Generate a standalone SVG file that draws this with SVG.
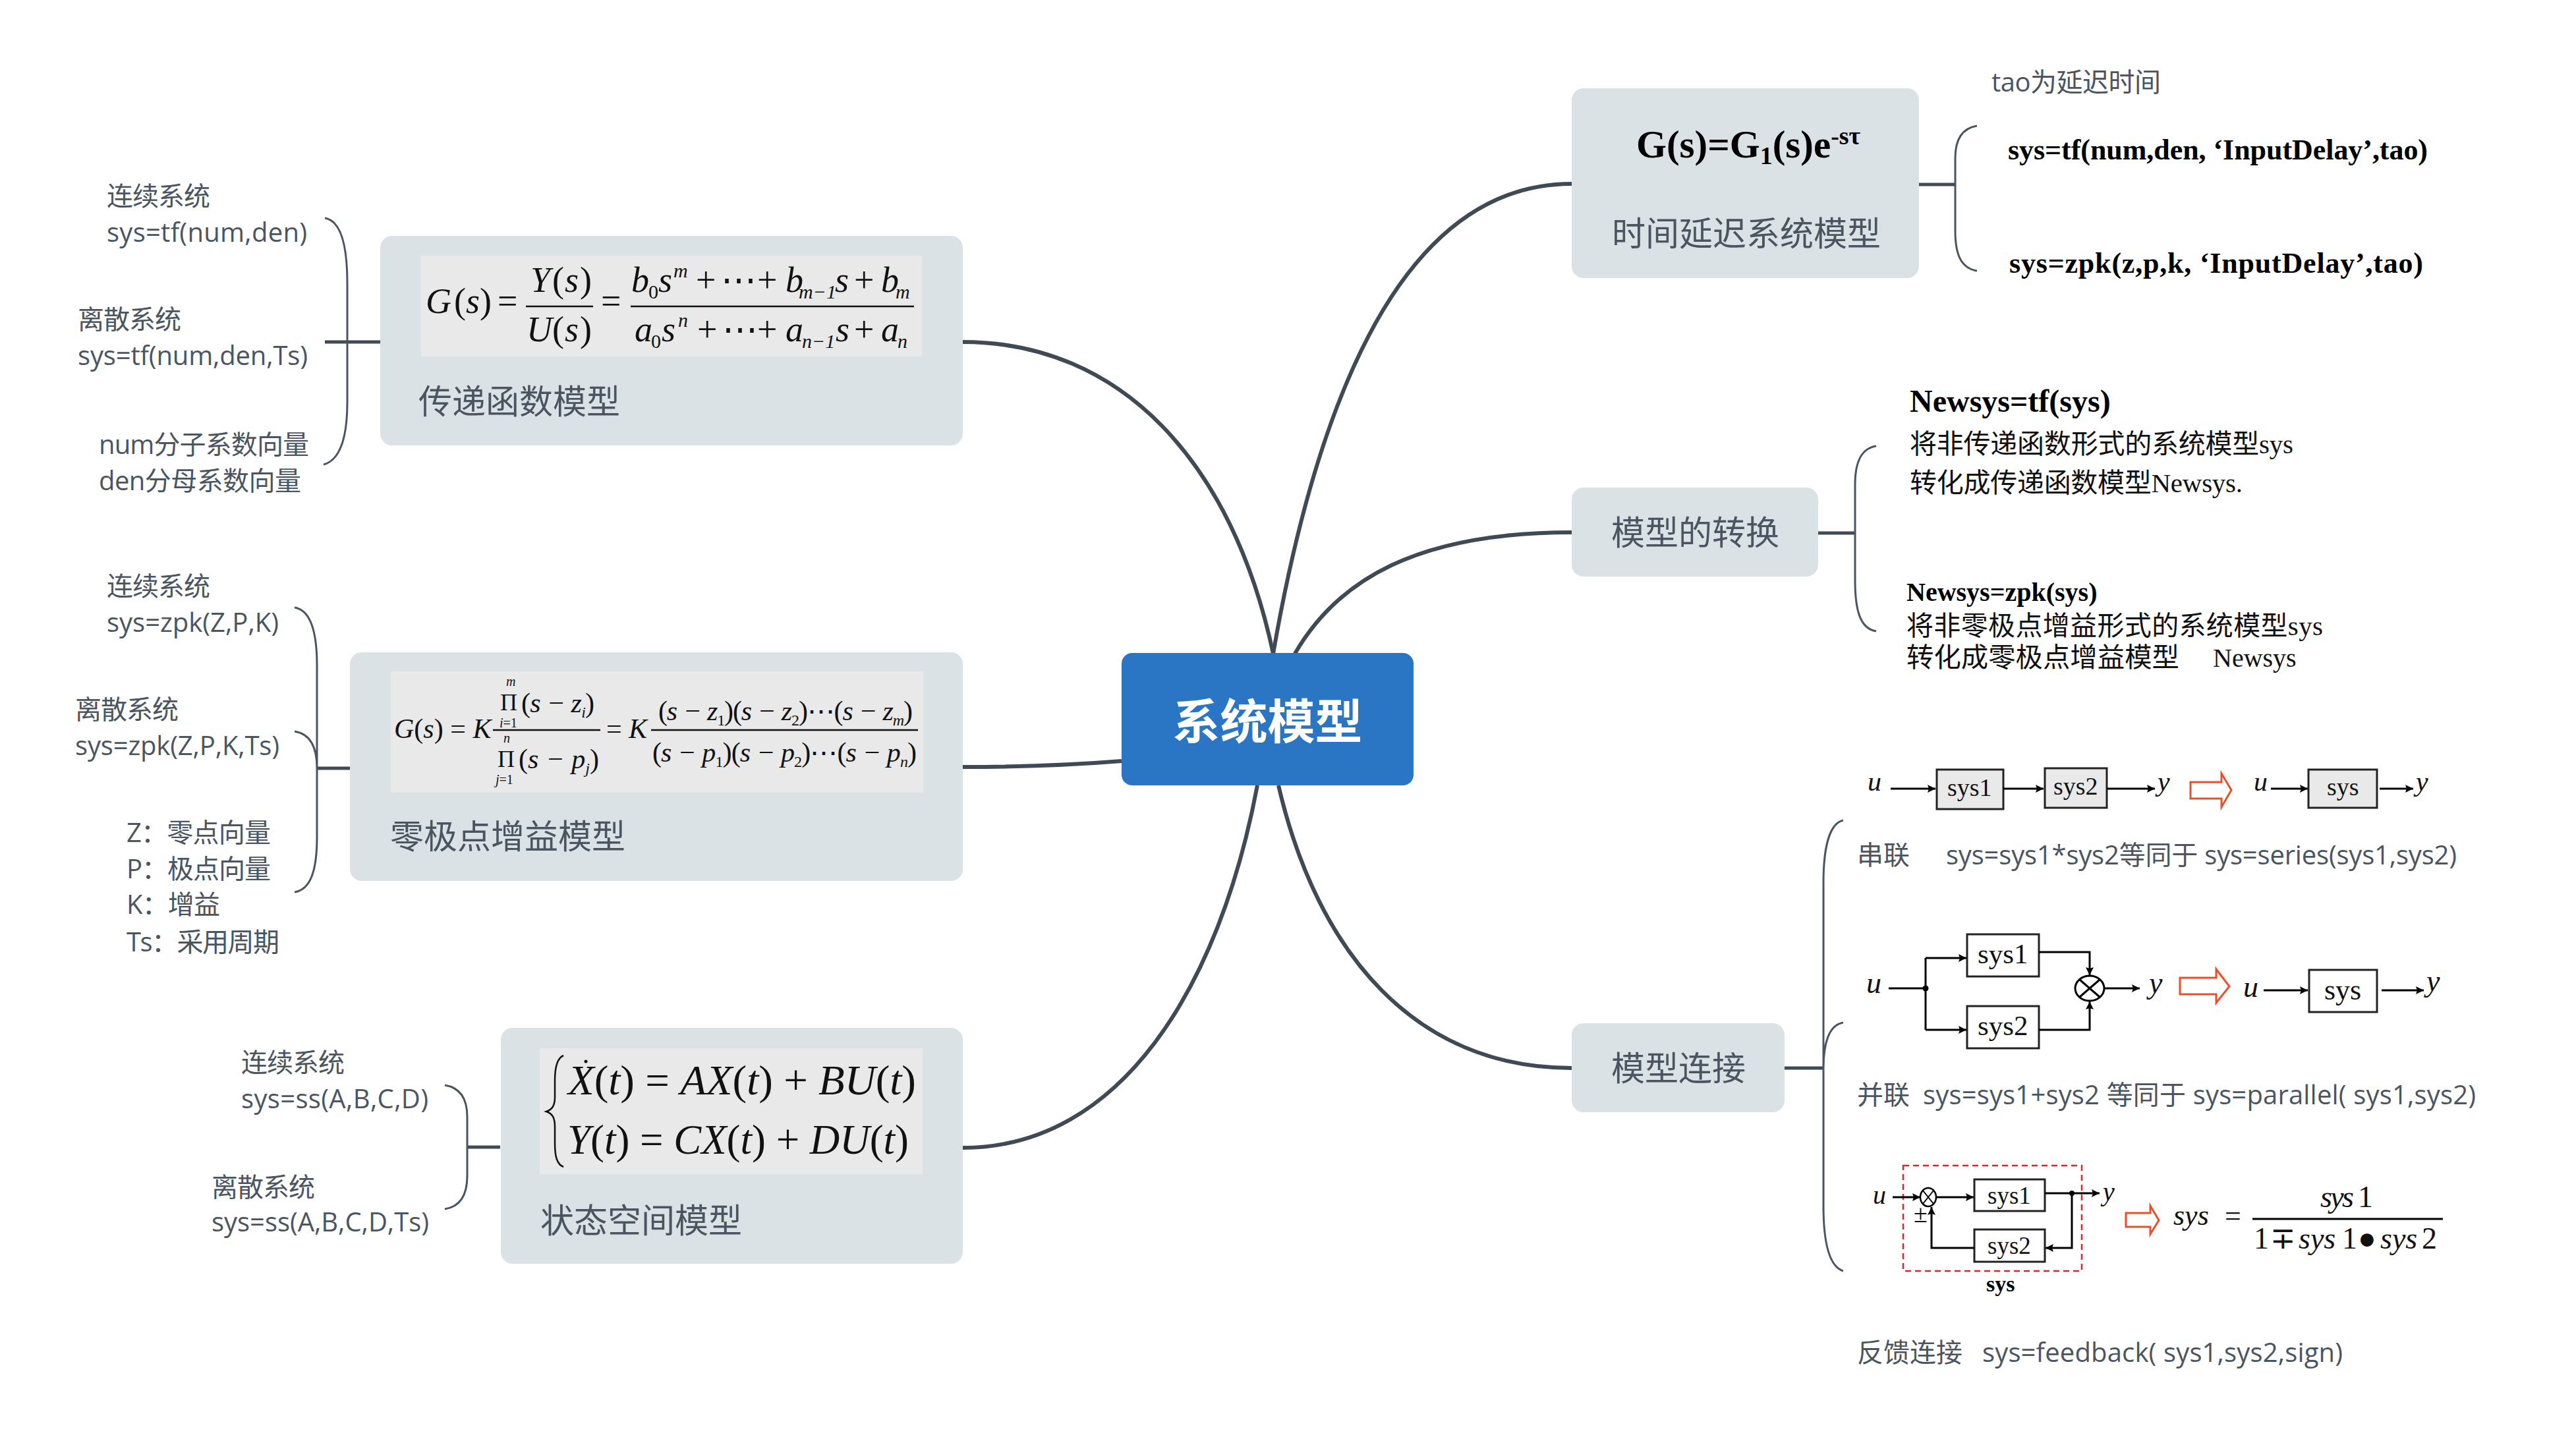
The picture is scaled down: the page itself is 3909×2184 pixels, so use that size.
<svg xmlns="http://www.w3.org/2000/svg" width="3909" height="2184" viewBox="0 0 3909 2184">
<style>
text{white-space:pre}
.n{fill:#dbe2e5}
.fb{fill:#e9e9e9}
.lb{font:40px "Open Sans","Noto Sans CJK SC",sans-serif;fill:#4a5561}
.tt{font:51px "Open Sans","Noto Sans CJK SC",sans-serif;fill:#4a5561}
.sb{font-family:"Liberation Serif","Noto Sans CJK SC",serif;font-weight:700;fill:#000}
.sr{font-family:"Liberation Serif","Noto Sans CJK SC",serif;fill:#111}
.it{font-family:"Liberation Serif",serif;font-style:italic;fill:#111}
.up{font-style:normal}
.c{fill:none;stroke:#3f4a54;stroke-width:6;stroke-linecap:butt}
.b{fill:none;stroke:#4a5561;stroke-width:3}
.s{fill:none;stroke:#3f4a54;stroke-width:5}
.w{fill:none;stroke:#000;stroke-width:3}
.a{fill:none;stroke:#000;stroke-width:3;marker-end:url(#h)}
.bx{fill:#e9e9e9;stroke:#222;stroke-width:3}
.bw{fill:#fff;stroke:#222;stroke-width:3}
.ra{fill:#fff;stroke:#e8502a;stroke-width:3}
.fl{stroke:#111;stroke-width:2.5;fill:none}
</style>
<defs><marker id="h" markerUnits="userSpaceOnUse" markerWidth="14" markerHeight="14" refX="12" refY="6" orient="auto"><path d="M0,0L12,6L0,12L2,6Z" fill="#000"/></marker></defs>
<rect width="3909" height="2184" fill="#fff"/>
<g id="connectors">
<path class="c" d="M1461,519C1700,519 1870,700 1932,992"/>
<path class="c" d="M1461,1164C1560,1164 1640,1160 1702,1155"/>
<path class="c" d="M1461,1742C1700,1742 1850,1500 1908,1192"/>
<path class="c" d="M2385,279C2130,279 2000,600 1932,992"/>
<path class="c" d="M2385,808C2150,808 2030,880 1965,992"/>
<path class="c" d="M2385,1621C2150,1621 2000,1450 1940,1192"/>
<path class="s" d="M493,519H577"/>
<path class="b" d="M493,331C518,335 527,375 527,430V610C527,660 518,698 491,705"/>
<path class="s" d="M481,1166H531"/>
<path class="b" d="M447,922C472,926 481,960 481,1010V1270C481,1320 472,1350 447,1354M447,1110C472,1114 481,1135 481,1166"/>
<path class="s" d="M709,1741H759"/>
<path class="b" d="M675,1647C700,1651 709,1670 709,1695V1785C709,1812 700,1831 675,1835"/>
<path class="s" d="M2912,280H2967"/>
<path class="b" d="M3000,191C2975,195 2967,215 2967,240V350C2967,385 2975,407 3000,411"/>
<path class="s" d="M2759,809H2815"/>
<path class="b" d="M2847,677C2822,681 2815,705 2815,735V880C2815,925 2822,954 2847,958"/>
<path class="s" d="M2708,1621H2767"/>
<path class="b" d="M2797,1245C2775,1250 2767,1290 2767,1340V1830C2767,1885 2775,1922 2797,1929M2797,1552C2775,1555 2767,1585 2767,1621"/>
</g>
<g id="root"><rect x="1702" y="991" width="443" height="201" rx="16" fill="#2b76c4"/><text x="1923.5" y="1121" text-anchor="middle" style="font:700 72px 'Noto Sans CJK SC',sans-serif;fill:#fff">系统模型</text></g>
<g id="node-transfer"><rect class="n" x="577" y="358" width="884" height="318" rx="18"/><rect class="fb" x="639" y="388" width="760" height="153"/>
<text class="it" font-size="54" y="475"><tspan x="646">G</tspan><tspan class="up" x="689">(</tspan><tspan x="707">s</tspan><tspan class="up" x="728">)</tspan><tspan class="up" x="755">=</tspan><tspan class="up" x="912">=</tspan></text>
<path class="fl" d="M798,465H900M957,465H1387"/>
<text class="it" font-size="54" y="443"><tspan x="805">Y</tspan><tspan class="up" x="838">(</tspan><tspan x="857">s</tspan><tspan class="up" x="880">)</tspan></text>
<text class="it" font-size="54" y="518"><tspan x="799">U</tspan><tspan class="up" x="838">(</tspan><tspan x="857">s</tspan><tspan class="up" x="880">)</tspan></text>
<text class="it" font-size="54" y="443"><tspan x="958">b</tspan><tspan x="984" class="up" font-size="30" dy="10">0</tspan><tspan x="999" dy="-10">s</tspan><tspan x="1022" font-size="30" dy="-22">m</tspan><tspan x="1056" class="up" dy="22">+</tspan><tspan x="1094" class="up">⋯</tspan><tspan x="1149" class="up">+</tspan><tspan x="1192">b</tspan><tspan x="1212" font-size="30" dy="10">m−1</tspan><tspan x="1267" dy="-10">s</tspan><tspan x="1296" class="up">+</tspan><tspan x="1337">b</tspan><tspan x="1359" font-size="30" dy="10">m</tspan></text>
<text class="it" font-size="54" y="518"><tspan x="963">a</tspan><tspan x="988" class="up" font-size="30" dy="10">0</tspan><tspan x="1004" dy="-10">s</tspan><tspan x="1029" font-size="30" dy="-22">n</tspan><tspan x="1058" class="up" dy="22">+</tspan><tspan x="1096" class="up">⋯</tspan><tspan x="1149" class="up">+</tspan><tspan x="1192">a</tspan><tspan x="1217" font-size="30" dy="10">n−1</tspan><tspan x="1268" dy="-10">s</tspan><tspan x="1296" class="up">+</tspan><tspan x="1337">a</tspan><tspan x="1362" font-size="30" dy="10">n</tspan></text>
<text class="tt" x="635" y="628">传递函数模型</text></g>
<g id="node-zpk"><rect class="n" x="531" y="990" width="930" height="347" rx="18"/><rect class="fb" x="593" y="1019" width="808" height="184"/>
<text class="it" font-size="42" y="1120"><tspan x="598">G</tspan><tspan class="up">(</tspan>s<tspan class="up">) = </tspan>K<tspan class="up" x="920">=</tspan><tspan x="954">K</tspan></text>
<path class="fl" d="M748,1108H911M988,1108H1393"/>
<text class="it" font-size="20" x="768" y="1041">m</text><text class="it" font-size="20" x="758" y="1104">i<tspan class="up">=1</tspan></text>
<text class="sr" font-size="36" x="759" y="1078">Π</text>
<text class="it" font-size="42" x="791" y="1081" textLength="111"><tspan class="up">(</tspan>s − z<tspan font-size="24" dy="8">i</tspan><tspan class="up" dy="-8">)</tspan></text>
<text class="it" font-size="20" x="764" y="1127">n</text><text class="it" font-size="20" x="752" y="1190">j<tspan class="up">=1</tspan></text>
<text class="sr" font-size="36" x="755" y="1164">Π</text>
<text class="it" font-size="42" x="787" y="1166" textLength="122"><tspan class="up">(</tspan>s − p<tspan font-size="24" dy="8">j</tspan><tspan class="up" dy="-8">)</tspan></text>
<text class="it" font-size="42" x="999" y="1093" textLength="386"><tspan class="up">(</tspan>s − z<tspan font-size="24" dy="8" class="up">1</tspan><tspan class="up" dy="-8">)(</tspan>s − z<tspan font-size="24" dy="8" class="up">2</tspan><tspan class="up" dy="-8">)⋯(</tspan>s − z<tspan font-size="24" dy="8">m</tspan><tspan class="up" dy="-8">)</tspan></text>
<text class="it" font-size="42" x="990" y="1156" textLength="401"><tspan class="up">(</tspan>s − p<tspan font-size="24" dy="8" class="up">1</tspan><tspan class="up" dy="-8">)(</tspan>s − p<tspan font-size="24" dy="8" class="up">2</tspan><tspan class="up" dy="-8">)⋯(</tspan>s − p<tspan font-size="24" dy="8">n</tspan><tspan class="up" dy="-8">)</tspan></text>
<text class="tt" x="592" y="1288">零极点增益模型</text></g>
<g id="node-ss"><rect class="n" x="760" y="1560" width="701" height="358" rx="18"/><rect class="fb" x="819" y="1591" width="581" height="191"/>
<path d="M855,1602C845,1606 842,1620 842,1640V1665C842,1678 838,1684 829,1687C838,1690 842,1696 842,1710V1735C842,1755 845,1767 855,1771" fill="none" stroke="#111" stroke-width="2.5"/>
<circle cx="889" cy="1611" r="2.5" fill="#111"/>
<text class="it" font-size="64" y="1661" x="862" textLength="528" lengthAdjust="spacingAndGlyphs">X<tspan class="up">(</tspan>t<tspan class="up">) = </tspan>AX<tspan class="up">(</tspan>t<tspan class="up">) + </tspan>BU<tspan class="up">(</tspan>t<tspan class="up">)</tspan></text>
<text class="it" font-size="64" y="1751" x="861" textLength="518" lengthAdjust="spacingAndGlyphs">Y<tspan class="up">(</tspan>t<tspan class="up">) = </tspan>CX<tspan class="up">(</tspan>t<tspan class="up">) + </tspan>DU<tspan class="up">(</tspan>t<tspan class="up">)</tspan></text>
<text class="tt" x="820" y="1871">状态空间模型</text></g>
<g id="node-delay"><rect class="n" x="2385" y="134" width="527" height="288" rx="18"/>
<text class="sb" font-size="59" x="2483" y="239">G(s)=G<tspan font-size="38" dy="10">1</tspan><tspan dy="-10">(s)e</tspan><tspan font-size="38" dy="-20">-sτ</tspan></text>
<text class="tt" x="2446" y="373">时间延迟系统模型</text></g>
<g id="node-conv"><rect class="n" x="2385" y="740" width="374" height="135" rx="18"/><text class="tt" x="2445" y="827">模型的转换</text></g>
<g id="node-conn"><rect class="n" x="2385" y="1553" width="323" height="135" rx="18"/><text class="tt" x="2445" y="1640">模型连接</text></g>
<g id="labels-transfer"><text class="lb" x="162" y="312" textLength="157">连续系统</text><text class="lb" x="162" y="367" textLength="304">sys=tf(num,den)</text><text class="lb" x="118" y="499" textLength="157">离散系统</text><text class="lb" x="118" y="554" textLength="349">sys=tf(num,den,Ts)</text><text class="lb" x="150" y="689" textLength="319">num分子系数向量</text><text class="lb" x="150" y="744" textLength="307">den分母系数向量</text></g>
<g id="labels-zpk"><text class="lb" x="162" y="904" textLength="157">连续系统</text><text class="lb" x="162" y="959">sys=zpk(Z,P,K)</text><text class="lb" x="114" y="1091" textLength="157">离散系统</text><text class="lb" x="114" y="1146" textLength="310">sys=zpk(Z,P,K,Ts)</text><text class="lb" x="192" y="1278" textLength="219">Z：零点向量</text><text class="lb" x="192" y="1333" textLength="219">P：极点向量</text><text class="lb" x="192" y="1387" textLength="142">K：增益</text><text class="lb" x="192" y="1444" textLength="232">Ts：采用周期</text></g>
<g id="labels-ss"><text class="lb" x="366" y="1627" textLength="157">连续系统</text><text class="lb" x="366" y="1682" textLength="284">sys=ss(A,B,C,D)</text><text class="lb" x="321" y="1816" textLength="157">离散系统</text><text class="lb" x="321" y="1869" textLength="330">sys=ss(A,B,C,D,Ts)</text></g>
<g id="labels-delay"><text class="lb" x="3022" y="139" textLength="257">tao为延迟时间</text><text class="sb" font-size="44" x="3047" y="242" textLength="637">sys=tf(num,den, ‘InputDelay’,tao)</text><text class="sb" font-size="44" x="3049" y="414" textLength="628">sys=zpk(z,p,k, ‘InputDelay’,tao)</text></g>
<g id="labels-conv"><text class="sb" font-size="48" x="2898" y="625">Newsys=tf(sys)</text><text class="sr" font-size="41" x="2898" y="688" textLength="582">将非传递函数形式的系统模型sys</text><text class="sr" font-size="41" x="2898" y="747" textLength="505">转化成传递函数模型Newsys.</text><text class="sb" font-size="40" x="2893" y="912">Newsys=zpk(sys)</text><text class="sr" font-size="41" x="2893" y="964" textLength="632">将非零极点增益形式的系统模型sys</text><text class="sr" font-size="41.4" x="2893" y="1012">转化成零极点增益模型<tspan x="3358" font-size="40">Newsys</tspan></text></g>
<g id="series">
<text class="it" font-size="42" x="2834" y="1200">u</text><path class="a" d="M2869,1197H2937"/>
<rect class="bx" x="2939" y="1168" width="101" height="60"/><text class="sr" font-size="38" x="2955" y="1208">sys1</text>
<path class="a" d="M3040,1197H3101"/><rect class="bx" x="3103" y="1166" width="94" height="60"/><text class="sr" font-size="38" x="3116" y="1206">sys2</text>
<path class="a" d="M3197,1197H3270"/><text class="it" font-size="42" x="3274" y="1200">y</text>
<path class="ra" d="M3324,1187H3371V1174L3386,1199L3371,1225V1212H3324Z"/>
<text class="it" font-size="42" x="3420" y="1200">u</text><path class="a" d="M3446,1197H3502"/>
<rect class="bx" x="3503" y="1168" width="104" height="58"/><text class="sr" font-size="38" x="3531" y="1207">sys</text>
<path class="a" d="M3611,1197H3662"/><text class="it" font-size="42" x="3666" y="1200">y</text>
<text class="lb" x="2818" y="1312">串联</text><text class="lb" x="2953" y="1312" textLength="775">sys=sys1*sys2等同于 sys=series(sys1,sys2)</text></g>
<g id="parallel">
<text class="it" font-size="46" x="2832" y="1507">u</text><path class="w" d="M2866,1500H2922M2922,1454V1563"/><circle cx="2922" cy="1500" r="4.5"/>
<path class="a" d="M2922,1454H2984"/><path class="a" d="M2922,1563H2984"/>
<rect class="bw" x="2985" y="1418" width="109" height="64"/><text class="sr" font-size="43" x="3001" y="1462">sys1</text>
<rect class="bw" x="2985" y="1527" width="109" height="64"/><text class="sr" font-size="43" x="3001" y="1571">sys2</text>
<path class="a" d="M3094,1445H3171V1480"/><path class="a" d="M3094,1563H3171V1520"/>
<ellipse cx="3171" cy="1500" rx="22" ry="19" fill="#fff" stroke="#000" stroke-width="3"/><path class="w" d="M3156,1487L3186,1513M3186,1487L3156,1513"/>
<path class="a" d="M3193,1500H3247"/><text class="it" font-size="46" x="3261" y="1507">y</text>
<path class="ra" d="M3308,1484H3363V1471L3383,1497L3363,1522V1509H3308Z"/>
<text class="it" font-size="46" x="3404" y="1513">u</text><path class="a" d="M3435,1503H3502"/>
<rect class="bw" x="3504" y="1472" width="103" height="64"/><text class="sr" font-size="44" x="3527" y="1517">sys</text>
<path class="a" d="M3614,1503H3678"/><text class="it" font-size="46" x="3682" y="1504">y</text>
<text class="lb" x="2818" y="1676">并联</text><text class="lb" x="2918" y="1676" textLength="839">sys=sys1+sys2 等同于 sys=parallel( sys1,sys2)</text></g>
<g id="feedback">
<rect x="2888" y="1769" width="271" height="160" fill="none" stroke="#e0222a" stroke-width="2.5" stroke-dasharray="9 6"/>
<text class="it" font-size="40" x="2842" y="1827">u</text><path class="a" d="M2872,1817H2914"/>
<ellipse cx="2926" cy="1817" rx="12" ry="14" fill="#fff" stroke="#000" stroke-width="2.5"/><path class="w" d="M2918,1807L2934,1827M2934,1807L2918,1827" style="stroke-width:2"/>
<path class="a" d="M2938,1817H2995"/>
<rect class="bw" x="2996" y="1790" width="107" height="48"/><text class="sr" font-size="37" x="3016" y="1827">sys1</text>
<path class="a" d="M3103,1811H3186"/><circle cx="3144" cy="1811" r="4"/><text class="it" font-size="40" x="3191" y="1822">y</text>
<path class="a" d="M3144,1811V1894H3104"/>
<rect class="bw" x="2996" y="1866" width="107" height="49"/><text class="sr" font-size="37" x="3016" y="1903">sys2</text>
<path class="a" d="M2996,1894H2931V1832"/>
<text class="sr" font-size="38" x="2904" y="1855">±</text>
<text class="sb" font-size="34" x="3014" y="1960">sys</text>
<path class="ra" d="M3226,1841H3263V1830L3276,1852L3263,1873V1862H3226Z"/>
<text class="it" font-size="44" x="3298" y="1859">sys</text><text class="sr" font-size="44" x="3376" y="1860">=</text>
<path class="w" d="M3418,1850H3707"/>
<text class="it" font-size="46" x="3521" y="1832" textLength="80">sys <tspan class="up">1</tspan></text>
<text class="it" font-size="46" y="1895"><tspan class="up" x="3420">1</tspan><tspan class="up" x="3445">∓</tspan><tspan x="3488">sys</tspan><tspan class="up" x="3554">1</tspan><tspan class="up" x="3578">●</tspan><tspan x="3612">sys</tspan><tspan class="up" x="3675">2</tspan></text>
<text class="lb" x="2818" y="2067">反馈连接</text><text class="lb" x="3008" y="2067" textLength="547">sys=feedback( sys1,sys2,sign)</text></g>
</svg>
